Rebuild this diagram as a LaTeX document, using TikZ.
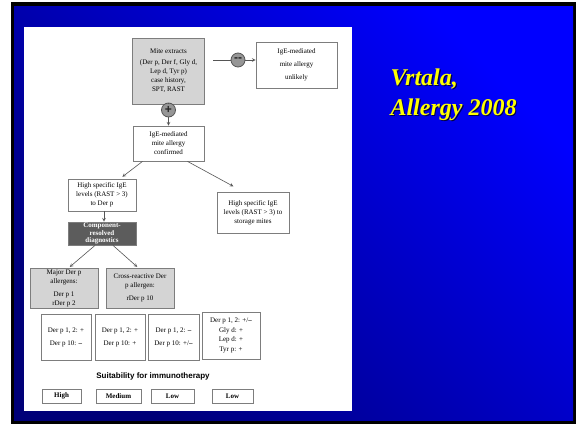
\documentclass[tikz,border=0pt]{standalone}
\usepackage{fontspec}
\setmainfont{Liberation Serif}
\newfontfamily\headsans{Liberation Sans}
\usetikzlibrary{arrows}

\definecolor{boxline}{RGB}{125,125,125}
\definecolor{boxgray}{RGB}{212,212,212}
\definecolor{darkgray}{RGB}{92,92,92}
\definecolor{signgray}{RGB}{150,150,150}
\definecolor{arrgray}{RGB}{85,85,85}
\definecolor{titleyellow}{RGB}{255,255,0}
\definecolor{bgdark}{RGB}{0,0,120}
\definecolor{bgbright}{RGB}{0,0,255}

\begin{document}
\begin{tikzpicture}[x=1pt,y=-1pt,
  box/.style={draw=boxline,line width=0.8pt,fill=white,align=center,inner sep=1pt,
    font=\fontsize{7}{9}\selectfont},
  graybox/.style={box,fill=boxgray},
  darkbox/.style={box,fill=darkgray,text=white,font=\fontsize{7}{7.2}\selectfont\bfseries},
  ratebox/.style={box,minimum height=14pt,font=\fontsize{7}{8}\selectfont\bfseries},
  sign/.style={circle,draw=arrgray,fill=signgray,line width=0.8pt,minimum size=14pt,
    inner sep=0pt,text=black!85,font=\headsans\fontsize{12}{12}\selectfont\bfseries},
  arr/.style={->,>=stealth,line width=0.6pt,draw=arrgray},
  title/.style={text=titleyellow,font=\fontsize{24}{28}\selectfont\bfseries\itshape},
  titleshadow/.style={title,text=black!70!blue}]
        \useasboundingbox (0,0) rectangle (576,426);
        \fill[white] (0,0) rectangle (576,426);
        \fill[black] (11,2) rectangle (576,424);
        \shade[top color=bgbright,bottom color=bgdark,shading angle=-45]
          (14,6) rectangle (573,420);
        \fill[white] (24,27) rectangle (352,411);

        \node[graybox,minimum width=72pt,minimum height=66pt] (mite) at (168.5,71)
          {Mite extracts\\[2pt](Der p, Der f, Gly d,\\Lep d, Tyr p)\\case history,\\SPT, RAST};
        \node[sign] (minus) at (238,60) {\raisebox{0.5pt}{--}};
        \node[box,minimum width=81pt,minimum height=46pt] (unlikely) at (296.5,65)
          {IgE-mediated\\[4pt]mite allergy\\[4pt]unlikely};
        \coordinate (mitegap) at (213,60);
        \draw[arr,-] (mitegap) -- (minus);
        \draw[arr] (minus) -- (minus -| unlikely.west);

        \node[sign] (plus) at (168.5,110) {+};
        \node[box,minimum width=71pt,minimum height=35pt] (confirmed) at (168.5,143.5)
          {IgE-mediated\\mite allergy\\confirmed};
        \draw[arr,-] (mite.south) -- (plus);
        \draw[arr] (plus) -- (confirmed.north);

        \node[box,minimum width=68pt,minimum height=32pt] (derp) at (102,195)
          {High specific IgE\\levels (RAST > 3)\\to Der p};
        \node[box,minimum width=72pt,minimum height=41pt] (storage) at (253,212.5)
          {High specific IgE\\levels (RAST > 3) to\\storage mites};
        \draw[arr,shorten >=3pt] ([xshift=-26pt]confirmed.south) -- ([xshift=18pt]derp.north);
        \draw[arr,shorten >=11pt] ([xshift=19pt]confirmed.south) -- ([xshift=-10pt]storage.north);

        \node[darkbox,minimum width=68pt,minimum height=23pt] (comp) at (102,233.5)
          {Component-\\resolved\\diagnostics};
        \draw[arr] ([xshift=2pt]derp.south) -- ([xshift=2pt]comp.north);

        \node[graybox,minimum width=68pt,minimum height=40pt] (major) at (64,288)
          {Major Der p\\allergens:\\[4pt]Der p 1\\rDer p 2};
        \node[graybox,minimum width=68pt,minimum height=40pt] (cross) at (140,288)
          {Cross-reactive Der\\p allergen:\\[4pt]rDer p 10};
        \draw[arr,shorten >=1pt] ([xshift=-7pt]comp.south) -- ([xshift=5pt]major.north);
        \draw[arr,shorten >=1pt] ([xshift=11pt]comp.south) -- ([xshift=-2pt]cross.north);

        % profiles
        \node[box,minimum width=50pt,minimum height=46pt] (res1) at (66,337)
          {Der p 1, 2: +\\[4pt]Der p 10: \textbf{--}};
        \node[box,minimum width=50pt,minimum height=46pt] (res2) at (120,337)
          {Der p 1, 2: +\\[4pt]Der p 10: +};
        \node[box,minimum width=51pt,minimum height=46pt] (res3) at (173.5,337)
          {Der p 1, 2: \textbf{--}\\[4pt]Der p 10: +/\textbf{--}};
        \node[box,minimum width=58pt,minimum height=47pt,font=\fontsize{7}{9.5}\selectfont] (res4) at (231,335.5)
          {Der p 1, 2: +/\textbf{--}\\Gly d: +\\Lep d: +\\Tyr p: +};

        \node[font=\headsans\fontsize{8}{9}\selectfont\bfseries] (suit) at (153,376)
          {Suitability for immunotherapy};

        \node[ratebox,minimum width=39pt] (high) at (61.5,396) {High};
        \node[ratebox,minimum width=45pt] (medium) at (118.5,396) {Medium};
        \node[ratebox,minimum width=43pt] (low1) at (172.5,396) {Low};
        \node[ratebox,minimum width=41pt] (low2) at (232.5,396) {Low};

        \node[titleshadow,anchor=base west] (authorsh) at (388.2,86.2) {Vrtala,};
        \node[titleshadow,anchor=base west] (journalsh) at (388.2,116.2) {Allergy 2008};
        \node[title,anchor=base west] (author) at (387,85) {Vrtala,};
        \node[title,anchor=base west] (journal) at (387,115) {Allergy 2008};
\end{tikzpicture}
\end{document}
